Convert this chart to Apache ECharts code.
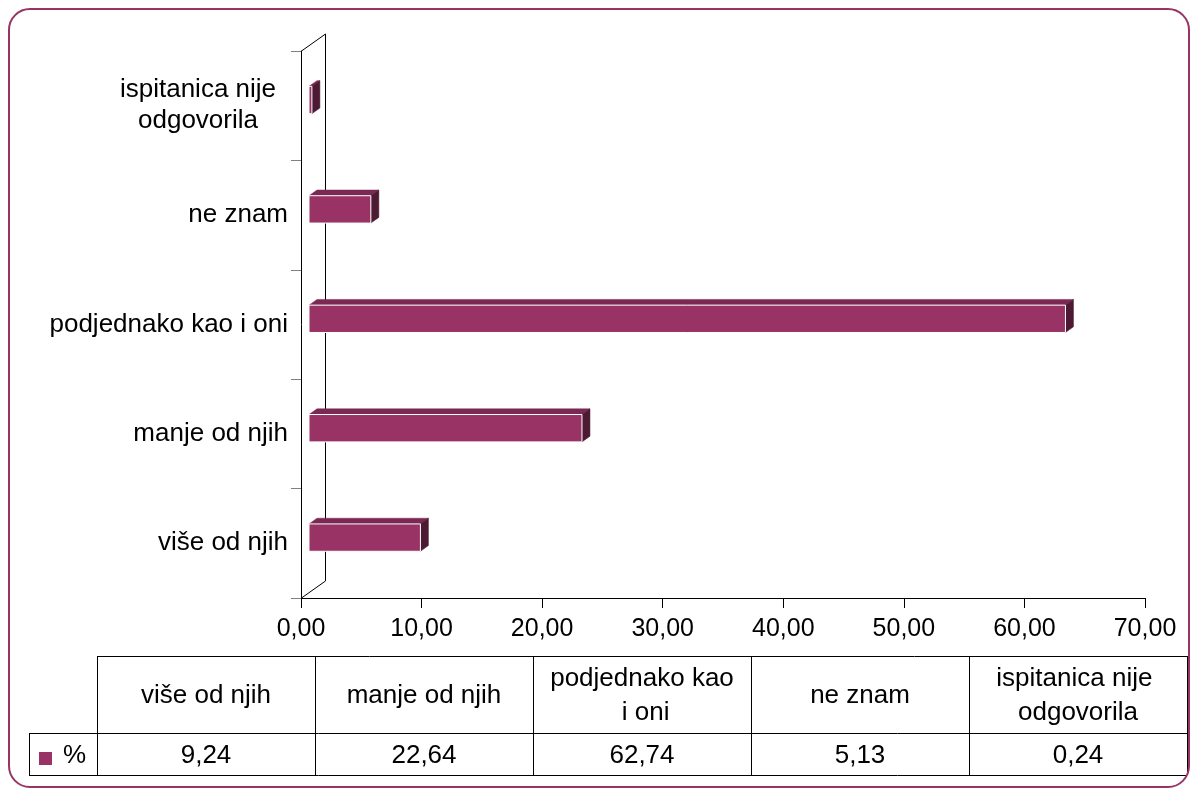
<!DOCTYPE html>
<html><head><meta charset="utf-8">
<script src="https://cdn.jsdelivr.net/npm/echarts@6/dist/echarts.min.js"></script>
<style>html,body{margin:0;padding:0;background:#fff}#c{width:1194px;height:794px}</style>
</head><body><div id="c"></div>
<script>
// ---- data ----
const categories = ['više od njih', 'manje od njih', 'podjednako kao i oni', 'ne znam', 'ispitanica nije odgovorila'];
const values = [9.24, 22.64, 62.74, 5.13, 0.24];
const seriesName = '%';
const xMin = 0, xMax = 70, xInterval = 10;

// ---- style ----
const FONT = '"Liberation Sans", Arial, sans-serif';
const FRONT = '#993366', TOP = '#7a2952', SIDE = '#4c1a33';
const DX = 8, DY = 5.7;     // bar depth offset
const WX = 24, WY = 17;     // wall depth offset
const fmt = v => Number(v).toFixed(2).replace('.', ',');

function wrapWords(s, maxChars) {
  const words = s.split(' ');
  const lines = [];
  let cur = '';
  words.forEach(w => {
    const t = cur ? cur + ' ' + w : w;
    if (t.length > maxChars && cur) { lines.push(cur); cur = w; } else cur = t;
  });
  if (cur) lines.push(cur);
  return lines;
}

const chart = echarts.init(document.getElementById('c'), null, {renderer: 'canvas'});

// table layout
const T = {left: 97, right: 1187, top: 656, mid: 733, bottom: 775, legLeft: 29};
const colW = (T.right - T.left) / categories.length;
const graphics = [];
const L = (x1, y1, x2, y2) => graphics.push({type: 'line', silent: true, shape: {x1, y1, x2, y2}, style: {stroke: '#000', lineWidth: 1}});
L(T.left, T.top + 0.5, T.right, T.top + 0.5);
L(T.legLeft, T.mid + 0.5, T.right, T.mid + 0.5);
L(T.legLeft, T.bottom + 0.5, T.right, T.bottom + 0.5);
L(T.legLeft + 0.5, T.mid, T.legLeft + 0.5, T.bottom);
for (let i = 0; i <= categories.length; i++) {
  const x = Math.round(T.left + i * colW) + 0.5;
  L(x, T.top, x, T.bottom);
}
categories.forEach((c, i) => {
  const cx = T.left + (i + 0.5) * colW;
  graphics.push({type: 'text', silent: true, style: {
    text: c, x: cx, y: (T.top + T.mid) / 2 + 1, width: 190, overflow: 'break',
    align: 'center', verticalAlign: 'middle', fontSize: 26, lineHeight: 34,
    fontFamily: FONT, fill: '#000'}});
  graphics.push({type: 'text', silent: true, style: {
    text: fmt(values[i]), x: cx, y: (T.mid + T.bottom) / 2 + 2,
    align: 'center', verticalAlign: 'middle', fontSize: 26,
    fontFamily: FONT, fill: '#000'}});
});
graphics.push({type: 'rect', silent: true, shape: {x: 39, y: 752, width: 13, height: 13}, style: {fill: FRONT}});
graphics.push({type: 'text', silent: true, style: {text: seriesName, x: 63, y: (T.mid + T.bottom) / 2 + 2,
  align: 'left', verticalAlign: 'middle', fontSize: 26, fontFamily: FONT, fill: '#000'}});
// outer border
graphics.push({type: 'rect', silent: true, z: 100, shape: {x: 9, y: 9, width: 1180, height: 778, r: 21},
  style: {fill: 'none', stroke: FRONT, lineWidth: 2}});

const option = {
  animation: false,
  backgroundColor: '#fff',
  grid: {left: 301, right: 49, top: 51, bottom: 196},
  xAxis: {
    type: 'value', min: xMin, max: xMax, interval: xInterval,
    axisLine: {show: true, lineStyle: {color: '#000', width: 1}},
    axisTick: {show: true, length: 10, lineStyle: {color: '#000'}},
    splitLine: {show: false},
    axisLabel: {formatter: fmt, fontSize: 25, color: '#000', fontFamily: FONT, margin: 19}
  },
  yAxis: {
    type: 'category', data: categories,
    axisLine: {show: true, lineStyle: {color: '#000', width: 1}},
    axisTick: {show: true, length: 10, lineStyle: {color: '#808080'}},
    splitLine: {show: false},
    axisLabel: {
      fontSize: 26, color: '#000', fontFamily: FONT, margin: 13,
      formatter: v => {
        const lines = wrapWords(v, 20);
        return lines.length > 1 ? lines.map(l => '{c|' + l + '}').join('\n') : v;
      },
      rich: {c: {width: 180, align: 'center', fontSize: 26, lineHeight: 31, fontFamily: FONT, color: '#000'}}
    }
  },
  series: [
    {
      type: 'custom', name: 'wall', silent: true, z: 1,
      data: [[0, 0]],
      renderItem: (params, api) => {
        const cs = params.coordSys;
        const x = Math.round(cs.x) + 0.5, y = cs.y, h = cs.height;
        const bx = x + WX;
        return {type: 'polyline', shape: {points: [[x, y], [bx, y - WY], [bx, y + h - WY], [x, y + h]]},
          style: {stroke: '#000', fill: null, lineWidth: 1}};
      }
    },
    {
      type: 'custom', name: seriesName, z: 5,
      data: values.map((v, i) => [v, i]),
      encode: {x: 0, y: 1},
      renderItem: (params, api) => {
        const v = api.value(0), c = api.value(1);
        const p0 = api.coord([0, c]), p1 = api.coord([v, c]);
        const band = api.size([0, 1])[1];
        const h = band / 4;
        const yc = p0[1] - DY;
        const fx0 = p0[0] + DX, fx1 = p1[0] + DX;
        const fy0 = yc - h / 2, fy1 = yc + h / 2;
        return {type: 'group', children: [
          {type: 'polygon', shape: {points: [[fx0, fy0], [fx1, fy0], [fx1 + DX, fy0 - DY], [fx0 + DX, fy0 - DY]]},
            style: {fill: TOP, stroke: TOP, lineWidth: 0.5}},
          {type: 'polygon', shape: {points: [[fx1, fy0], [fx1 + DX, fy0 - DY], [fx1 + DX, fy1 - DY], [fx1, fy1]]},
            style: {fill: SIDE, stroke: SIDE, lineWidth: 0.5}},
          {type: 'rect', shape: {x: fx0, y: fy0, width: fx1 - fx0, height: h},
            style: {fill: FRONT, stroke: '#ffffff', lineWidth: 1}}
        ]};
      }
    }
  ],
  graphic: graphics
};
chart.setOption(option);
</script>
</body></html>
